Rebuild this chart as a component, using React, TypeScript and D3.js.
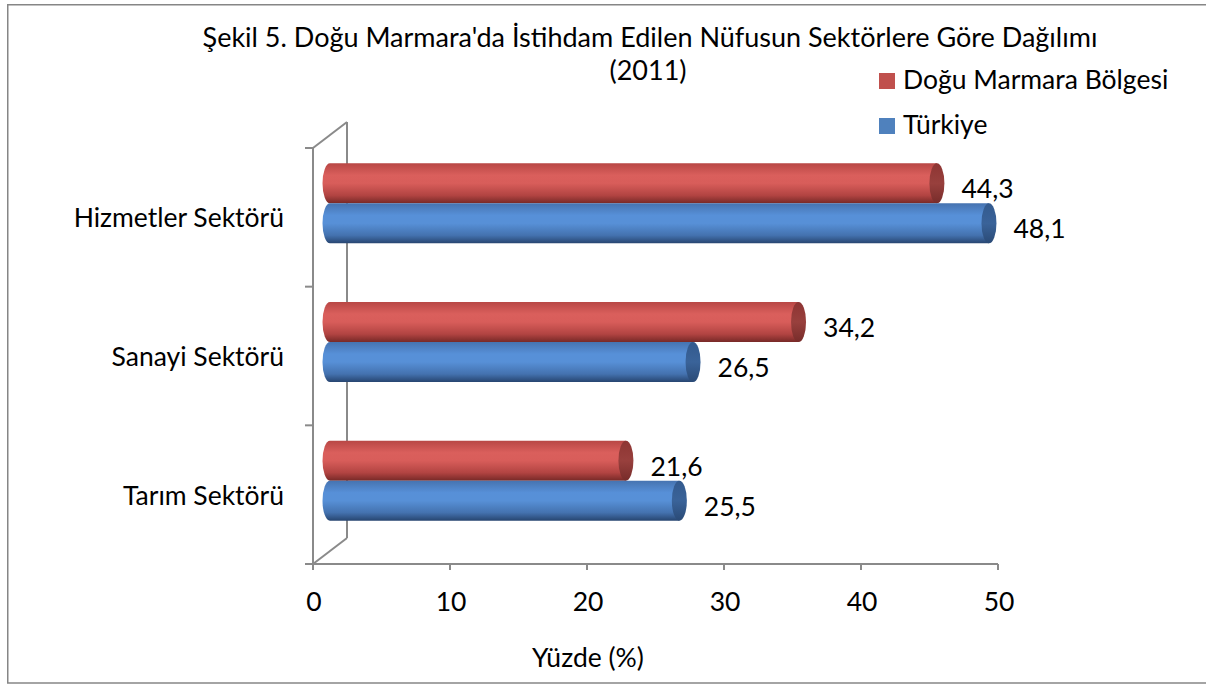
import React from "react";
import * as d3 from "d3";

const categories = ["Hizmetler Sektörü", "Sanayi Sektörü", "Tarım Sektörü"];
const seriesNames = ["Doğu Marmara Bölgesi", "Türkiye"];
const doguMarmara = [44.3, 34.2, 21.6];
const turkiye = [48.1, 26.5, 25.5];
const xTicks = [0, 10, 20, 30, 40, 50];
const titleLines = ["Şekil 5. Doğu Marmara'da İstihdam Edilen Nüfusun Sektörlere Göre Dağılımı", "(2011)"];
const axisTitle = "Yüzde (%)";

const FONT = "Lato, 'Open Sans', sans-serif";
const GREY = "#8a8a8a";

export default function App() {
  const W = 1206, H = 684;
  const x = d3.scaleLinear().domain([0, 50]).range([313, 998]);
  const y = d3.scaleBand<string>().domain(categories).range([148, 564]).padding(0);
  const dx = 34, dy = -26;
  const hx = dx / 2, hy = dy / 2;
  const series = [
    { name: seriesNames[0], values: doguMarmara, body: "url(#redBody)", cap: "url(#redCap)", legend: "#C0504D" },
    { name: seriesNames[1], values: turkiye, body: "url(#blueBody)", cap: "url(#blueCap)", legend: "#4F81BD" },
  ];
  const inner = d3.scaleBand<string>().domain(seriesNames).range([-40, 40]).padding(0);
  const rx = 7.5;

  const cyl = (x0: number, x1: number, yt: number, h: number) => {
    const yb = yt + h;
    const ry = h / 2;
    return `M${x0},${yt} L${x1},${yt} L${x1},${yb} L${x0},${yb} A${rx},${ry} 0 0 1 ${x0},${yt} Z`;
  };

  const x0 = x(0) + hx;
  const FS = 26.5;

  return (
    <svg width={W} height={H} style={{ position: "absolute", left: 0, top: 0, background: "#fff", overflow: "hidden" }} fontFamily={FONT}>
      <defs>
        <linearGradient id="redBody" x1="0" y1="0" x2="0" y2="1">
          <stop offset="0" stopColor="#B84745" />
          <stop offset="0.3" stopColor="#DA5F5C" />
          <stop offset="0.5" stopColor="#D85D5A" />
          <stop offset="0.8" stopColor="#B24442" />
          <stop offset="1" stopColor="#772927" />
        </linearGradient>
        <linearGradient id="blueBody" x1="0" y1="0" x2="0" y2="1">
          <stop offset="0" stopColor="#4673B0" />
          <stop offset="0.3" stopColor="#5790D8" />
          <stop offset="0.5" stopColor="#5790D7" />
          <stop offset="0.8" stopColor="#4472AF" />
          <stop offset="1" stopColor="#274570" />
        </linearGradient>
        <linearGradient id="redCap" x1="0" y1="0" x2="0" y2="1">
          <stop offset="0" stopColor="#8E3533" />
          <stop offset="0.5" stopColor="#98403D" />
          <stop offset="1" stopColor="#772C2A" />
        </linearGradient>
        <linearGradient id="blueCap" x1="0" y1="0" x2="0" y2="1">
          <stop offset="0" stopColor="#335A8E" />
          <stop offset="0.5" stopColor="#3A6399" />
          <stop offset="1" stopColor="#2A4A76" />
        </linearGradient>
      </defs>
      <path d={`M${W + 20},4.75 L7.75,4.75 L7.75,683 L${W + 20},683`} fill="#fff" stroke="#868686" strokeWidth={1.5} />

      {/* title */}
      <text x={650} y={47} textAnchor="middle" fontSize={27} fill="#000">{titleLines[0]}</text>
      <text x={648} y={80} textAnchor="middle" fontSize={27} fill="#000">{titleLines[1]}</text>

      {/* legend */}
      {series.map((s, i) => (
        <g key={s.name} transform={`translate(879,${73 + i * 45})`}>
          <rect x={0} y={0} width={16} height={16} fill={s.legend} />
          <text x={24} y={16} fontSize={FS} fill="#000">{s.name}</text>
        </g>
      ))}

      {/* walls / axes */}
      <g stroke={GREY} strokeWidth={2} fill="none">
        <line x1={x(0)} y1={148} x2={x(0)} y2={564} />
        <line x1={x(0) + dx} y1={148 + dy} x2={x(0) + dx} y2={564 + dy} />
        <line x1={x(0)} y1={148} x2={x(0) + dx} y2={148 + dy} />
        <line x1={x(0)} y1={564} x2={x(0) + dx} y2={564 + dy} />
        <line x1={305} y1={564} x2={x(50)} y2={564} />
        {categories.map((c) => (
          <line key={c} x1={305} y1={y(c)!} x2={x(0)} y2={y(c)!} />
        ))}
        {xTicks.map((t) => (
          <line key={t} x1={x(t)} y1={564} x2={x(t)} y2={570} />
        ))}
      </g>

      {/* bars */}
      {categories.map((c, ci) => {
        const center = y(c)! + y.bandwidth() / 2 + hy - 1;
        return (
          <g key={c}>
            {series.map((s) => {
              const v = s.values[ci];
              const yt = center + inner(s.name)!;
              const h = inner.bandwidth();
              const x1 = x(v) + hx;
              return (
                <g key={s.name}>
                  <path d={cyl(x0, x1, yt, h)} fill={s.body} />
                  <ellipse cx={x1} cy={yt + h / 2} rx={rx} ry={h / 2} fill={s.cap} />
                  <text x={x1 + rx + 17} y={yt + h / 2 + 15} fontSize={FS} fill="#000">
                    {String(v).replace(".", ",")}
                  </text>
                </g>
              );
            })}
          </g>
        );
      })}

      {/* category labels */}
      {categories.map((c) => (
        <text key={c} x={284} y={y(c)! + y.bandwidth() / 2 + 10} textAnchor="end" fontSize={FS} fill="#000">
          {c}
        </text>
      ))}

      {/* x tick labels */}
      {xTicks.map((t) => (
        <text key={t} x={x(t) + 1} y={611} textAnchor="middle" fontSize={FS} fill="#000">{t}</text>
      ))}
      <text x={588} y={667} textAnchor="middle" fontSize={FS} fill="#000">{axisTitle}</text>
    </svg>
  );
}
